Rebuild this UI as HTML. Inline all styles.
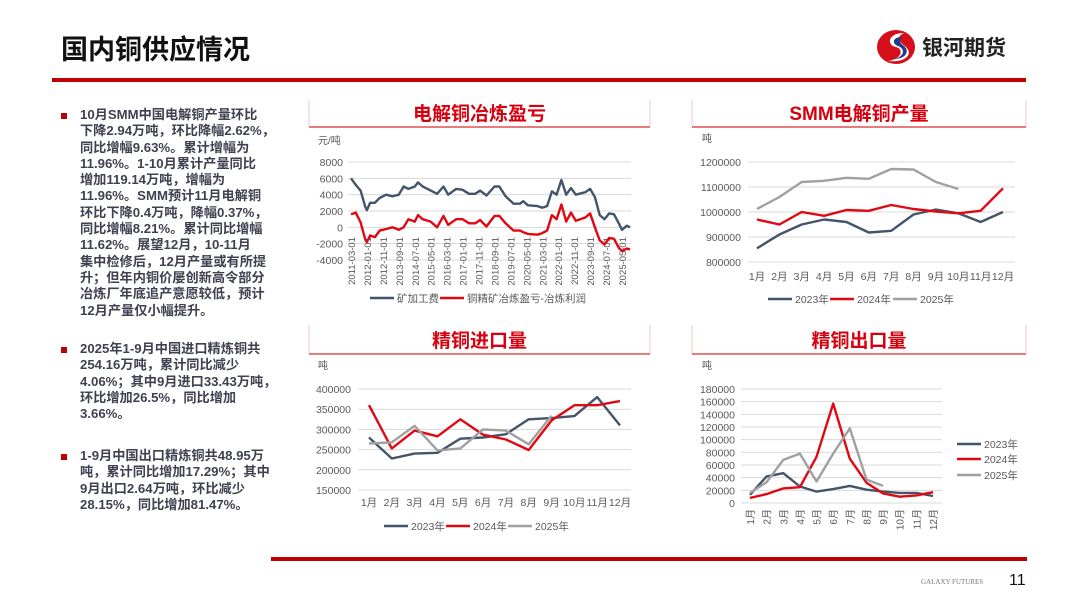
<!DOCTYPE html>
<html><head><meta charset="utf-8">
<style>
body{margin:0;background:#fff;}
#page{position:relative;width:1080px;height:608px;overflow:hidden;background:#fff;font-family:"Liberation Sans","Noto Sans CJK SC",sans-serif;}
.title{position:absolute;left:61px;top:28px;font-size:27px;font-weight:bold;color:#111;}
.logo-text{position:absolute;left:922px;top:32px;font-size:21px;font-weight:bold;color:#222;}
.txt{position:absolute;left:80px;width:215px;font-size:13.2px;line-height:16.3px;font-weight:bold;color:#3f4150;white-space:nowrap;}
.bul{position:absolute;left:61px;width:6px;height:6px;background:#c00000;}
</style></head>
<body>
<div id="page">
<div class="title">国内铜供应情况</div>
<svg style="position:absolute;left:874px;top:27px" width="44" height="40">
<ellipse cx="22" cy="20" rx="19" ry="17" fill="#d40f1a"/>
<path d="M30 6 C14 6 12 18 22 20 C30 22 28 32 14 34 C30 36 40 28 32 20 C24 14 22 10 30 6Z" fill="#fff"/>
<path d="M28 10 C18 10 18 17 24 19 C32 22 30 30 20 32 C32 32 36 24 30 19 C26 16 24 13 28 10Z" fill="#1d3c8c"/>
</svg>
<div class="logo-text">银河期货</div>
<div style="position:absolute;left:52px;top:78px;width:974px;height:4px;background:#c00000;"></div>

<div class="bul" style="top:113px"></div>
<div class="txt" style="top:107px">10月SMM中国电解铜产量环比<br>下降2.94万吨，环比降幅2.62%，<br>同比增幅9.63%。累计增幅为<br>11.96%。1-10月累计产量同比<br>增加119.14万吨，增幅为<br>11.96%。SMM预计11月电解铜<br>环比下降0.4万吨，降幅0.37%，<br>同比增幅8.21%。累计同比增幅<br>11.62%。展望12月，10-11月<br>集中检修后，12月产量或有所提<br>升；但年内铜价屡创新高令部分<br>冶炼厂年底追产意愿较低，预计<br>12月产量仅小幅提升。</div>
<div class="bul" style="top:347px"></div>
<div class="txt" style="top:341px">2025年1-9月中国进口精炼铜共<br>254.16万吨，累计同比减少<br>4.06%；其中9月进口33.43万吨，<br>环比增加26.5%，同比增加<br>3.66%。</div>
<div class="bul" style="top:454px"></div>
<div class="txt" style="top:448px">1-9月中国出口精炼铜共48.95万<br>吨，累计同比增加17.29%；其中<br>9月出口2.64万吨，环比减少<br>28.15%，同比增加81.47%。</div>

<div style="position:absolute;left:271px;top:557px;width:756px;height:4px;background:#c00000;"></div>
<div style="position:absolute;left:921px;top:578px;font-size:7px;color:#777;font-family:'Liberation Serif',serif;">GALAXY FUTURES</div>
<div style="position:absolute;left:1009px;top:572px;font-size:16px;color:#111;">11</div>

<svg id="charts" width="1080" height="608" style="position:absolute;left:0;top:0"></svg>
</div>
<script>
// ---- chart 1: smelting profit ----
const c1Dates=["2011-03","2011-06","2011-09","2011-12","2012-01","2012-03","2012-06","2012-09","2013-01","2013-05","2013-09","2013-12","2014-03","2014-07","2014-09","2014-12","2015-05","2015-09","2016-01","2016-04","2016-09","2017-01","2017-05","2017-09","2017-12","2018-04","2018-09","2018-12","2019-04","2019-09","2020-01","2020-03","2020-06","2020-12","2021-03","2021-06","2021-09","2021-12","2022-03","2022-06","2022-09","2022-12","2023-06","2023-09","2023-12","2024-03","2024-06","2024-09","2024-12","2025-03","2025-05","2025-08","2025-10"];
const c1TC=[6000,5200,4500,2500,2100,3000,3000,3600,4000,3800,4000,5000,4700,5000,5500,5000,4500,4100,5000,4000,4700,4600,4100,4100,4500,3900,5000,5000,3800,2900,2900,3200,2700,2600,2400,2600,4400,4000,5800,4000,4800,4000,4300,4700,3700,1500,1000,1700,1600,500,-300,200,0];
const c1Profit=[1600,1800,600,-1500,-1800,-1000,-1200,-400,-200,0,-300,0,1000,700,1500,1000,700,0,1400,300,1000,1000,500,500,900,100,1400,1400,500,-400,-400,-600,-800,-900,-700,-400,1500,1000,2800,700,1800,800,1200,1700,0,-1600,-2100,-1300,-1400,-2500,-2900,-2600,-2700];
const c1Ticks=[8000,6000,4000,2000,0,-2000,-4000];
const c1XLabels=["2011-03-01","2012-01-01","2012-11-01","2013-09-01","2014-07-01","2015-05-01","2016-03-01","2017-01-01","2017-11-01","2018-09-01","2019-07-01","2020-05-01","2021-03-01","2022-01-01","2022-11-01","2023-09-01","2024-07-01","2025-05-01"];
// ---- chart 2: SMM production ----
const months=["1月","2月","3月","4月","5月","6月","7月","8月","9月","10月","11月","12月"];
const p2023=[855000,910000,950000,970000,960000,918000,925000,990000,1010000,995000,960000,1000000];
const p2024=[970000,950000,1000000,985000,1008000,1005000,1028000,1012000,1002000,995000,1005000,1095000];
const p2025=[1012000,1060000,1120000,1125000,1137000,1133000,1172000,1170000,1120000,1092000];
const pTicks=[1200000,1100000,1000000,900000,800000];
// ---- chart 3: imports ----
const i2023=[280000,228000,240000,242000,277000,280000,288000,325000,328000,333000,380000,310000];
const i2024=[360000,253000,297000,283000,325000,287000,275000,249000,322000,360000,360000,370000];
const i2025=[265000,268000,309000,248000,253000,300000,297000,263000,334000];
const iTicks=[400000,350000,300000,250000,200000,150000];
// ---- chart 4: exports ----
const e2023=[13000,42000,47000,26000,18000,22000,27000,21000,18000,16000,16000,11000];
const e2024=[8000,14000,23000,25000,73000,157000,70000,32000,15000,10000,12000,17000];
const e2025=[16000,33000,68000,78000,34000,78000,118000,37000,27000];
const eTicks=[180000,160000,140000,120000,100000,80000,60000,40000,20000,0];

const C_DARK="#44546a",C_RED="#e00812",C_GRAY="#a0a0a0",C_TXT="#595959";
const svg=document.getElementById('charts');
const NS="http://www.w3.org/2000/svg";
function mk(tag,attrs,parent){const e=document.createElementNS(NS,tag);for(const k in attrs)e.setAttribute(k,attrs[k]);(parent||svg).appendChild(e);return e;}
function txt(x,y,s,size,anchor,fill,parent,extra){const t=mk('text',Object.assign({x:x,y:y,'font-size':size,'text-anchor':anchor,fill:fill,'font-family':'Liberation Sans, Noto Sans CJK SC, sans-serif'},extra||{}),parent);t.textContent=s;return t;}
function linear(d0,d1,r0,r1){return v=>r0+(v-d0)/(d1-d0)*(r1-r0);}

function titleBox(x0,x1,yTop,yBot,title,name){
  const g=mk('g',{});
  
  
  mk('line',{x1:x0,y1:yTop,x2:x0,y2:yBot,stroke:'#f2c6c6','stroke-width':1},g);
  mk('line',{x1:x1,y1:yTop,x2:x1,y2:yBot,stroke:'#f2c6c6','stroke-width':1},g);
  mk('line',{x1:x0,y1:yBot,x2:x1,y2:yBot,stroke:'#e05050','stroke-width':1.5},g);
  txt((x0+x1)/2,yBot-7,title,19,'middle','#d8000f',g,{'font-weight':'bold'});
}
function series(vals,xf,yf,color,name,parent){
  const pts=vals.map((v,i)=>xf(i).toFixed(1)+','+yf(v).toFixed(1)).join(' ');
  const p=mk('polyline',{points:pts,fill:'none',stroke:color,'stroke-width':2.4,'stroke-linejoin':'round'},parent);
  
  
}
function legendItem(x,y,color,label,parent,name){
  const g=mk('g',{},parent);
  
  
  mk('line',{x1:x,y1:y,x2:x+24,y2:y,stroke:color,'stroke-width':2.6},g);
  txt(x+27,y+4,label,10.5,'start',C_TXT,g);
}

// ===== Chart 1 =====
(function(){
  titleBox(309,650,100,127,'电解铜冶炼盈亏','chart1-title');
  const g=mk('g',{});
  const y=linear(8000,-4000,162,260);
  const mIdx=s=>{const [a,b]=s.split('-').map(Number);return (a-2011)*12+(b-3);};
  const x=linear(0,170,351,622);
  txt(318,144,'元/吨',10,'start',C_TXT,g);
  c1Ticks.forEach(t=>{mk('line',{x1:348,y1:y(t),x2:631,y2:y(t),stroke:'#d9d9d9','stroke-width':1},g);txt(343,y(t)+4,String(t),10.5,'end',C_TXT,g);});
  c1XLabels.forEach(l=>{const xx=x(mIdx(l.slice(0,7)))+4;txt(xx,237,l,9.5,'end',C_TXT,g,{transform:`rotate(-90 ${xx} 237)`});});
  series(c1TC,i=>x(mIdx(c1Dates[i])),y,C_DARK,'series-tc',g);
  series(c1Profit,i=>x(mIdx(c1Dates[i])),y,C_RED,'series-smelting-profit',g);
  legendItem(370,298,C_DARK,'矿加工费',g,'legend-tc');
  legendItem(440,298,C_RED,'铜精矿冶炼盈亏-冶炼利润',g,'legend-profit');
})();

// ===== Chart 2 =====
(function(){
  titleBox(692,1026,100,127,'SMM电解铜产量','chart2-title');
  const g=mk('g',{});
  const y=linear(1200000,800000,162,262);
  const x=linear(0,11,757,1003);
  txt(702,142,'吨',10,'start',C_TXT,g);
  pTicks.forEach(t=>{mk('line',{x1:748,y1:y(t),x2:1015,y2:y(t),stroke:'#d9d9d9','stroke-width':1},g);txt(741,y(t)+4,String(t),10.5,'end',C_TXT,g);});
  months.forEach((m,i)=>txt(x(i),280,m,10.5,'middle',C_TXT,g));
  series(p2023,x,y,C_DARK,'series-2023',g);
  series(p2024,x,y,C_RED,'series-2024',g);
  series(p2025,x,y,C_GRAY,'series-2025',g);
  legendItem(768,299,C_DARK,'2023年',g,'legend-2023');
  legendItem(830,299,C_RED,'2024年',g,'legend-2024');
  legendItem(893,299,C_GRAY,'2025年',g,'legend-2025');
})();

// ===== Chart 3 =====
(function(){
  titleBox(309,650,325,354,'精铜进口量','chart3-title');
  const g=mk('g',{});
  const y=linear(400000,150000,389,490);
  const x=linear(0,11,369,620);
  txt(318,369,'吨',10,'start',C_TXT,g);
  iTicks.forEach(t=>{mk('line',{x1:358,y1:y(t),x2:631,y2:y(t),stroke:'#d9d9d9','stroke-width':1},g);txt(351,y(t)+4,String(t),10.5,'end',C_TXT,g);});
  months.forEach((m,i)=>txt(x(i),506,m,10.5,'middle',C_TXT,g));
  series(i2023,x,y,C_DARK,'series-2023',g);
  series(i2024,x,y,C_RED,'series-2024',g);
  series(i2025,x,y,C_GRAY,'series-2025',g);
  legendItem(384,526,C_DARK,'2023年',g,'legend-2023');
  legendItem(446,526,C_RED,'2024年',g,'legend-2024');
  legendItem(508,526,C_GRAY,'2025年',g,'legend-2025');
})();

// ===== Chart 4 =====
(function(){
  titleBox(692,1026,325,354,'精铜出口量','chart4-title');
  const g=mk('g',{});
  const y=linear(180000,0,389,503);
  const x=linear(0,11,750,933);
  txt(702,369,'吨',10,'start',C_TXT,g);
  eTicks.forEach(t=>{mk('line',{x1:741,y1:y(t),x2:942,y2:y(t),stroke:'#d9d9d9','stroke-width':1},g);txt(735,y(t)+4,String(t),10.5,'end',C_TXT,g);});
  months.forEach((m,i)=>{const xx=x(i)+4;txt(xx,509,m,10,'end',C_TXT,g,{transform:`rotate(-90 ${xx} 509)`});});
  series(e2023,x,y,C_DARK,'series-2023',g);
  series(e2024,x,y,C_RED,'series-2024',g);
  series(e2025,x,y,C_GRAY,'series-2025',g);
  legendItem(957,444,C_DARK,'2023年',g,'legend-2023');
  legendItem(957,459,C_RED,'2024年',g,'legend-2024');
  legendItem(957,475,C_GRAY,'2025年',g,'legend-2025');
})();
</script>
</body></html>
